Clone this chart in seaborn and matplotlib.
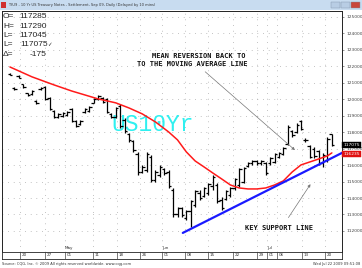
import numpy as np
import pandas as pd
import matplotlib
matplotlib.use("Agg")
import matplotlib.pyplot as plt
import matplotlib.transforms as mtransforms
from matplotlib.patches import Rectangle
import seaborn as sns

# ---------------- data ----------------
highs = [121.60, 120.75, 121.47, 120.93, 120.38, 120.57, 119.96, 120.75, 120.81, 120.14,
         119.35, 119.17, 119.23, 119.29, 119.47, 118.74, 118.74, 119.47, 119.59, 120.08,
         120.26, 120.14, 120.08, 119.17, 119.53, 119.71, 118.86, 117.95, 117.53, 116.80,
         116.01, 116.80, 116.62, 115.71, 116.01, 115.83, 115.71, 114.61, 113.46, 113.46,
         113.28, 113.88, 114.49, 114.49, 114.67, 114.92, 115.40, 114.92, 114.06, 114.49,
         114.67, 115.22, 115.83, 115.89, 116.19, 116.31, 116.31, 116.31, 116.19, 116.50,
         116.74, 116.80, 117.10, 118.44, 118.14, 118.56, 118.74, 117.65, 117.22, 117.10,
         116.92, 116.74, 117.71, 117.906]
lows = [121.48, 120.57, 121.29, 120.69, 120.20, 120.26, 119.71, 120.57, 119.96, 119.35,
        118.86, 118.86, 118.93, 118.99, 118.62, 118.32, 118.44, 119.17, 119.23, 119.78,
        119.96, 119.78, 119.17, 118.86, 118.86, 118.26, 117.95, 117.41, 116.80, 115.40,
        115.52, 115.58, 114.98, 114.98, 115.28, 115.40, 114.61, 112.85, 112.85, 112.85,
        112.67, 112.24, 113.46, 113.88, 114.06, 114.19, 114.49, 113.70, 113.28, 113.88,
        114.06, 114.49, 114.67, 114.92, 115.89, 116.01, 116.01, 116.01, 115.40, 116.01,
        116.13, 116.43, 116.62, 117.22, 117.71, 117.95, 118.14, 117.41, 116.43, 116.43,
        116.01, 115.89, 116.19, 117.14]
opens = [121.55, 120.70, 121.40, 120.90, 120.35, 120.30, 119.90, 120.60, 120.75, 120.05,
         119.30, 118.90, 119.00, 119.05, 119.40, 118.70, 118.50, 119.20, 119.30, 119.80,
         120.00, 120.10, 120.00, 119.10, 118.95, 119.60, 118.75, 117.90, 117.45, 116.70,
         115.60, 115.70, 116.50, 115.10, 115.40, 115.75, 115.60, 114.50, 113.00, 113.40,
         112.80, 113.20, 113.60, 114.30, 114.10, 114.30, 114.70, 114.80, 113.90, 113.95,
         114.20, 114.60, 114.80, 115.00, 115.95, 116.10, 116.25, 116.10, 116.10, 116.10,
         116.20, 116.50, 116.70, 117.30, 118.05, 118.00, 118.65, 117.50, 117.15, 117.00,
         116.85, 116.10, 116.30, 117.89]
closes = [121.50, 120.60, 121.32, 120.72, 120.25, 120.50, 119.75, 120.70, 120.00, 119.40,
          118.95, 119.10, 119.15, 119.25, 118.70, 118.40, 118.70, 119.40, 119.55, 120.00,
          120.20, 119.85, 119.25, 118.95, 119.45, 118.40, 118.05, 117.50, 116.90, 115.60,
          115.90, 116.70, 115.10, 115.60, 115.90, 115.50, 114.70, 113.00, 113.40, 112.95,
          113.20, 113.80, 114.40, 114.00, 114.60, 114.85, 115.30, 113.80, 113.40, 114.40,
          114.60, 115.15, 115.75, 115.80, 116.10, 116.25, 116.10, 116.25, 115.50, 116.40,
          116.65, 116.75, 117.05, 118.30, 117.80, 118.45, 118.20, 117.55, 116.50, 116.55,
          116.10, 116.60, 117.60, 117.23]

ma_idx = [0, 5, 10, 14, 17, 20, 24, 27, 30, 33, 36, 38, 40, 42, 44, 46, 48, 50, 52, 54,
          56, 58, 60, 62, 64, 66, 68, 70, 72, 73]
ma_val = [121.96, 121.36, 120.87, 120.50, 120.26, 120.02, 119.78, 119.47, 119.11, 118.62,
          118.01, 117.53, 116.80, 116.25, 115.89, 115.52, 115.16, 114.79, 114.61, 114.55,
          114.55, 114.61, 114.79, 115.04, 115.58, 116.01, 116.19, 116.37, 116.56, 116.74]

support_idx = [39.2, 75.3]
support_val = [111.88, 116.74]

date_pos = [2.3, 7.9, 12.5, 18.8, 24.3, 29.5, 34.5, 39.7, 44.9, 50.6, 56.0, 58.3, 60.5, 66.2, 71.4]
date_labels = ["20", "27", "01", "11", "18", "26", "01", "08", "15", "22", "29", "01", "06", "13", "20"]
month_pos = [12.5, 34.5, 58.3]
month_labels = ["May", "Jun", "Jul"]

y_ticks = list(range(112, 126))
y_tick_labels = [f"{v}000" for v in y_ticks]

info_keys = ["O=", "H=", "L=", "L=", "Δ="]
info_vals = ["117285", "117290", "117045", "117075✓", "-175"]

last_close_label = "117075"
ma_last_label = "116235"

# ---------------- figure ----------------
sns.set_style("white")
plt.rcParams["font.family"] = ["DejaVu Sans"]

W, H = 362, 268
fig = plt.figure(figsize=(W / 100, H / 100), dpi=100)
fig.patch.set_facecolor("white")

def fx(px):
    return px / W

def fy(py):
    return 1 - py / H

# title bar
fig.patches.append(Rectangle((0, fy(10)), 1, 10 / H, transform=fig.transFigure,
                             facecolor="#c8dcf0", edgecolor="none", zorder=0))
fig.patches.append(Rectangle((fx(1), fy(8)), fx(5), 6 / H, transform=fig.transFigure,
                             facecolor="#d03030", edgecolor="none", zorder=1))
fig.text(fx(8), fy(5), "TYU9 - 10 Yr US Treasury Notes - Settlement, Sep 09, Daily (Delayed by 10 mins)",
         fontsize=2.6, color="#333333", va="center", ha="left")
for bx, col in [(331, "#b8cde4"), (341, "#b8cde4"), (351, "#c8463c")]:
    fig.patches.append(Rectangle((fx(bx), fy(8)), fx(9), 6 / H, transform=fig.transFigure,
                                 facecolor=col, edgecolor="#7f93aa", lw=0.3, zorder=1))

# main axes
ax_left, ax_right, ax_top, ax_bot = 2, 342, 11, 252
ax = fig.add_axes([fx(ax_left), fy(ax_bot), fx(ax_right - ax_left), (ax_bot - ax_top) / H])
ax.set_facecolor("white")
ax.set_xlim(-1.8, 75.3)
ax.set_ylim(110.72, 125.36)

# grid (dotted)
for yv in y_ticks:
    ax.axhline(yv, color="#9a9a9a", lw=0.6, ls=(0, (0.8, 6)), zorder=0)
for xv in date_pos:
    ax.axvline(xv, color="#9a9a9a", lw=0.6, ls=(0, (0.8, 6)), zorder=0)

# OHLC bars
idx = np.arange(len(highs))
ax.vlines(idx, lows, highs, color="black", lw=0.9, zorder=3)
ax.hlines(opens, idx - 0.55, idx, color="black", lw=0.9, zorder=3)
ax.hlines(closes, idx, idx + 0.55, color="black", lw=0.9, zorder=3)

# moving average and support line
sns.lineplot(x=ma_idx, y=ma_val, color="#ff1a1a", lw=1.1, ax=ax, zorder=4)
sns.lineplot(x=support_idx, y=support_val, color="#1a1aff", lw=1.6, ax=ax, zorder=4)

# axes styling
ax.set_xticks([])
ax.yaxis.tick_right()
ax.set_yticks(y_ticks)
ax.set_yticklabels(y_tick_labels, fontsize=3.2, color="#444444")
ax.tick_params(axis="y", length=1.5, width=0.4, pad=2, colors="#444444")
ax.set_xlabel("")
ax.set_ylabel("")
for s in ax.spines.values():
    s.set_color("#222222")
    s.set_linewidth(0.7)

# annotations
ax.annotate("", xy=(65.1, 116.80), xytext=(43.8, 121.78),
            arrowprops=dict(arrowstyle="-|>", color="#777777", lw=0.5, mutation_scale=4), zorder=5)
ax.annotate("", xy=(68.5, 114.98), xytext=(62.8, 112.67),
            arrowprops=dict(arrowstyle="-|>", color="#777777", lw=0.5, mutation_scale=4), zorder=5)

mono = dict(family="DejaVu Sans Mono", fontsize=5, fontweight="bold", color="#111111")
ax.text(32.2, 122.63, "MEAN REVERSION BACK TO", ha="left", va="center", **mono)
ax.text(28.8, 122.14, "TO THE MOVING AVERAGE LINE", ha="left", va="center", **mono)
ax.text(53.3, 112.18, "KEY SUPPORT LINE", ha="left", va="center", **mono)

ax.text(23.1, 118.44, "US10Yr", ha="left", va="center", family="Liberation Mono",
        fontsize=16.5, color="#2ff0f0", zorder=2)

# info block
info_y = [16, 26, 35.5, 45, 55]
for k, v, py in zip(info_keys, info_vals, info_y):
    fig.text(fx(3), fy(py), k, fontsize=6, family="Liberation Sans", va="center", ha="left")
    if v.endswith("✓"):
        fig.text(fx(20), fy(py), v[:-1], fontsize=6, family="Liberation Sans", va="center", ha="left")
        fig.text(fx(47), fy(py), "✓", fontsize=4, family="DejaVu Sans", va="center", ha="left")
    else:
        fig.text(fx(47), fy(py), v, fontsize=6, family="Liberation Sans", va="center", ha="right")

# price boxes on the right axis
trans_r = mtransforms.blended_transform_factory(ax.transAxes, ax.transData)
ax.text(1.004, closes[-1], last_close_label, transform=trans_r, fontsize=3.2, color="white",
        ha="left", va="center", zorder=10, clip_on=False,
        bbox=dict(boxstyle="square,pad=0.25", facecolor="black", edgecolor="black", lw=0.3))
ax.text(1.004, ma_val[-1] - 0.05, ma_last_label, transform=trans_r, fontsize=3.2, color="white",
        ha="left", va="center", zorder=10, clip_on=False,
        bbox=dict(boxstyle="square,pad=0.25", facecolor="#e01010", edgecolor="#e01010", lw=0.3))

# month labels inside plot
trans_b = mtransforms.blended_transform_factory(ax.transData, ax.transAxes)
for mp, ml in zip(month_pos, month_labels):
    ax.text(mp, 0.008, ml, transform=trans_b, fontsize=3, color="#333333", ha="left", va="bottom")

# date band
axd = fig.add_axes([fx(ax_left), fy(259), fx(ax_right - ax_left), 7 / H])
axd.set_xlim(ax.get_xlim())
axd.set_ylim(0, 1)
axd.set_xticks([])
axd.set_yticks([])
axd.set_facecolor("white")
for s in axd.spines.values():
    s.set_color("#222222")
    s.set_linewidth(0.6)
axd.vlines(date_pos, 0, 1, color="#444444", lw=0.5)
for dp, dl in zip(date_pos, date_labels):
    axd.text(dp + 0.4, 0.5, dl, fontsize=3, color="#333333", ha="left", va="center")

# footer
fig.text(fx(2), fy(264), "Source: CQG, Inc. © 2009 All rights reserved worldwide. www.cqg.com",
         fontsize=2.6, color="#333333", ha="left", va="center")
fig.text(fx(360), fy(264), "Wed Jul 22 2009 09:51:08", fontsize=2.6, color="#333333",
         ha="right", va="center")

fig.savefig("out.png", dpi=100, facecolor=fig.get_facecolor())
